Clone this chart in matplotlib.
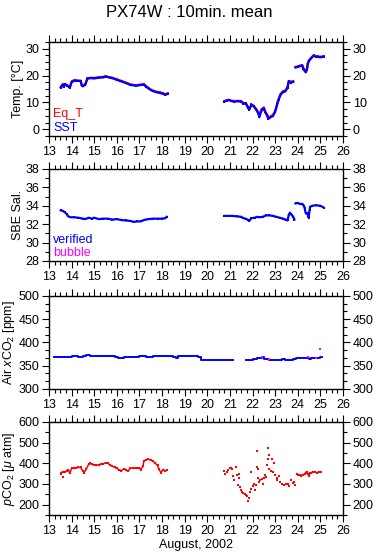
import matplotlib
matplotlib.use("Agg")
import matplotlib.pyplot as plt
from matplotlib.ticker import MultipleLocator

plt.rcParams['font.family'] = ['Liberation Sans', 'DejaVu Sans']
plt.rcParams['mathtext.fontset'] = 'custom'
plt.rcParams['mathtext.rm'] = 'Liberation Sans'
plt.rcParams['mathtext.it'] = 'Liberation Sans:italic'

# ---- temperature (SST blue, Eq_T red) ----
t1_days = [13.52, 13.6, 13.65, 13.7, 13.8, 13.85, 13.92, 14.0, 14.1, 14.2, 14.3, 14.4, 14.45, 14.5,
           14.6, 14.7, 14.8, 14.9, 15.0, 15.2, 15.4, 15.5, 15.6, 15.8, 16.0, 16.2, 16.4, 16.6, 16.85,
           17.0, 17.2, 17.3, 17.4, 17.5, 17.6, 17.75, 17.9, 18.05, 18.15, 18.25]
sst1 = [15.5, 16.5, 15.8, 16.8, 16.2, 16.0, 15.4, 17.5, 18.0, 18.0, 18.0, 18.0, 16.2, 16.0,
        16.5, 18.8, 19.0, 19.0, 18.9, 19.2, 19.3, 19.6, 19.4, 19.0, 18.4, 17.8, 17.2, 16.5, 16.2,
        16.4, 16.6, 15.8, 15.2, 14.6, 14.2, 13.8, 13.5, 13.2, 12.8, 13.2]
eqt1 = [15.7, 16.7, 16.0, 16.9, 16.4, 16.1, 15.6, 17.8, 18.2, 18.2, 18.1, 18.1, 16.4, 16.2,
        16.7, 19.0, 19.1, 19.2, 19.1, 19.4, 19.5, 19.8, 19.5, 19.2, 18.6, 18.0, 17.4, 16.7, 16.4,
        16.6, 16.8, 16.0, 15.4, 14.8, 14.4, 14.0, 13.7, 13.4, 13.0, 13.4]

t2_days = [20.75, 20.85, 20.95, 21.05, 21.2, 21.35, 21.5, 21.6, 21.7, 21.8, 21.85, 21.95, 22.05,
           22.15, 22.25, 22.3, 22.4, 22.5, 22.55, 22.65, 22.7, 22.8, 22.9, 23.0, 23.1, 23.15,
           23.25, 23.35, 23.45, 23.55, 23.6, 23.7, 23.8]
sst2 = [10.3, 10.6, 10.9, 10.5, 10.3, 10.4, 10.3, 9.5, 9.6, 8.0, 7.2, 9.1, 8.5,
        7.4, 6.0, 4.5, 7.2, 7.8, 6.5, 5.0, 3.9, 4.5, 4.9, 6.5, 9.5, 11.0,
        13.0, 13.8, 14.1, 15.5, 17.8, 17.4, 17.6]
eqt2 = [10.5, 10.8, 11.0, 10.7, 10.5, 10.6, 10.5, 9.7, 9.8, 8.3, 7.5, 9.3, 8.8,
        7.7, 6.4, 4.9, 7.5, 8.1, 6.8, 5.4, 4.3, 4.8, 5.3, 6.8, 9.8, 11.3,
        13.3, 14.1, 14.4, 15.8, 18.0, 17.7, 17.9]

t3_days = [23.9, 24.0, 24.1, 24.2, 24.25, 24.3, 24.35, 24.4, 24.45, 24.5, 24.6, 24.7, 24.8,
           24.9, 25.0, 25.1, 25.15]
sst3 = [23.0, 23.2, 23.5, 23.7, 22.4, 21.8, 21.2, 22.0, 24.5, 25.5, 26.5, 27.4, 27.0,
        26.9, 26.8, 26.9, 27.0]
eqt3 = [23.2, 23.4, 23.7, 23.9, 22.7, 22.2, 21.6, 22.4, 24.8, 25.7, 26.7, 27.5, 27.2,
        27.1, 27.0, 27.1, 27.2]

# ---- SBE salinity ----
s1_days = [13.52, 13.6, 13.7, 13.78, 13.85, 13.95, 14.1, 14.3, 14.5, 14.6, 14.75, 14.9, 15.0,
           15.2, 15.4, 15.6, 15.8, 16.0, 16.2, 16.4, 16.6, 16.75, 16.9, 17.05, 17.2, 17.4,
           17.6, 17.8, 18.0, 18.15, 18.2]
sal1 = [33.5, 33.45, 33.3, 33.1, 32.85, 32.75, 32.75, 32.7, 32.6, 32.55, 32.7, 32.6, 32.7,
        32.55, 32.6, 32.6, 32.5, 32.55, 32.45, 32.4, 32.35, 32.25, 32.3, 32.3, 32.45, 32.55,
        32.6, 32.6, 32.6, 32.65, 32.8]
s2_days = [20.76, 20.9, 21.1, 21.3, 21.5, 21.6, 21.7, 21.8, 21.85, 21.95, 22.1, 22.2, 22.3,
           22.45, 22.6, 22.75, 22.9, 23.05, 23.2, 23.35, 23.5, 23.55, 23.6, 23.65, 23.7,
           23.75, 23.8, 23.85]
sal2 = [32.9, 32.9, 32.9, 32.85, 32.8, 32.65, 32.6, 32.45, 32.35, 32.65, 32.7, 32.8, 32.75,
        32.8, 32.95, 32.95, 32.9, 32.8, 32.7, 32.6, 32.45, 32.4, 33.0, 33.25, 33.1,
        32.95, 32.8, 32.5]
s3_days = [23.9, 24.0, 24.1, 24.2, 24.25, 24.3, 24.35, 24.4, 24.45, 24.48, 24.52, 24.55,
           24.65, 24.8, 25.0, 25.15]
sal3 = [34.25, 34.3, 34.2, 34.2, 34.1, 33.8, 33.2, 33.1, 33.2, 32.7, 33.5, 33.9,
        34.0, 34.05, 34.0, 33.8]

# ---- air xCO2 ----
a1_days = [13.2, 13.5, 13.8, 14.0, 14.3, 14.5, 14.65, 14.8, 15.0, 15.5, 15.9, 16.05, 16.3,
           16.6, 17.0, 17.3, 17.6, 18.0, 18.5, 18.6, 18.7, 19.0, 19.3, 19.6, 19.7, 20.5, 21.13]
air1 = [368, 369, 368, 370, 368, 370, 373, 371, 370, 370, 369, 366, 368,
        368, 370, 368, 370, 370, 369, 366, 370, 371, 370, 369, 363, 363, 363]
a2_days = [21.69, 22.0, 22.2, 22.4, 22.5, 22.75, 23.0, 23.3, 23.45, 23.8, 23.9, 24.2, 24.5,
           24.6, 24.8, 25.0, 25.05]
air2 = [363, 365, 366, 368, 365, 363, 363, 365, 363, 364, 367, 367, 365,
        366, 366, 369, 369]
bub_days = [22.4, 22.75, 24.45, 24.8, 25.0]
bub_air = [369, 364, 368, 367, 385]

# ---- pCO2 ----
p1_days = [13.52, 13.55, 13.6, 13.7, 13.8, 13.85, 13.92, 14.0, 14.1, 14.2, 14.3, 14.4, 14.5,
           14.55, 14.65, 14.75, 14.8, 14.9, 15.0, 15.1, 15.2, 15.3, 15.4, 15.5, 15.6, 15.7,
           15.8, 15.9, 16.0, 16.1, 16.2, 16.3, 16.4, 16.5, 16.6, 16.7, 16.8, 16.9, 17.0,
           17.05, 17.15, 17.2, 17.3, 17.4, 17.5, 17.6, 17.7, 17.8, 17.85, 17.95, 18.05,
           18.15, 18.2]
pco2_1 = [350, 355, 360, 358, 365, 370, 352, 375, 378, 378, 380, 380, 362,
          355, 372, 395, 400, 395, 392, 393, 390, 396, 398, 402, 400, 393,
          386, 381, 375, 368, 365, 372, 370, 362, 378, 376, 377, 375, 378,
          368, 385, 412, 418, 420, 415, 410, 400, 390, 373, 355, 370,
          362, 368]
p_out_days = [13.6]
p_out = [333]
p2_days = [20.76, 20.8, 20.85, 20.9, 21.0, 21.05, 21.1, 21.15, 21.2, 21.25, 21.3, 21.35, 21.4,
           21.42, 21.45, 21.5, 21.55, 21.6, 21.65, 21.7, 21.75, 21.8, 21.85, 21.9, 21.95,
           21.95, 22.0, 22.05, 22.1, 22.15, 22.19, 22.2, 22.23, 22.25, 22.3, 22.35, 22.4,
           22.45, 22.5, 22.55, 22.6, 22.63, 22.67, 22.7, 22.72, 22.75, 22.8, 22.85, 22.9,
           22.93, 23.0, 23.07, 23.1, 23.15, 23.2, 23.3, 23.4, 23.5, 23.55, 23.6, 23.7,
           23.77, 23.82, 23.87]
pco2_2 = [365, 350, 360, 370, 378, 375, 372, 340, 318, 380, 345, 293, 330,
          349, 285, 270, 260, 254, 250, 245, 241, 220, 233, 260, 278,
          357, 290, 300, 270, 294, 460, 380, 373, 330, 310, 320, 326,
          300, 330, 341, 335, 390, 476, 420, 440, 373, 365, 420, 357,
          400, 341, 330, 318, 340, 310, 302, 295, 300, 302, 290, 318,
          305, 310, 297]
p3_days = [23.95, 24.0, 24.1, 24.15, 24.22, 24.3, 24.35, 24.4, 24.44, 24.5, 24.55, 24.6,
           24.66, 24.75, 24.85, 24.95, 25.03]
pco2_3 = [349, 345, 343, 340, 345, 348, 355, 360, 349, 340, 355, 352,
          360, 358, 355, 357, 357]

RED, BLUE, MAG = '#ff0000', '#0000ff', '#ff00ff'

fig = plt.figure(figsize=(3.78, 5.58), dpi=100)
W = 0.7778
L = 0.1296
axes = [fig.add_axes([L, 0.7563, W, 0.1685]),
        fig.add_axes([L, 0.5323, W, 0.1649]),
        fig.add_axes([L, 0.3029, W, 0.1667]),
        fig.add_axes([L, 0.0771, W, 0.1667])]

ylims = [(-2.5, 32.5), (28, 38), (300, 500), (150, 600)]
ymaj = [10, 2, 50, 100]
ymin = [2.5, 1, 50 / 3, 50]
ylabels = ['Temp. [°C]', 'SBE Sal.', r'Air $x$CO$_2$ [ppm]', r'$p$CO$_2$ [$\mu$ atm]']

for ax, yl, mj, mn, lab in zip(axes, ylims, ymaj, ymin, ylabels):
    ax.set_xlim(13, 26)
    ax.set_ylim(*yl)
    ax.xaxis.set_major_locator(MultipleLocator(1))
    ax.xaxis.set_minor_locator(MultipleLocator(0.25))
    ax.yaxis.set_major_locator(MultipleLocator(mj))
    ax.yaxis.set_minor_locator(MultipleLocator(mn))
    ax.tick_params(which='both', direction='out', top=True, right=True,
                   labelright=True, labelsize=9, width=0.8, pad=2)
    ax.tick_params(which='major', length=5)
    ax.tick_params(which='minor', length=3)
    ax.set_ylabel(lab, fontsize=9, labelpad=1)
    for s in ax.spines.values():
        s.set_linewidth(1.0)

ax1, ax2, ax3, ax4 = axes
ax1.set_yticks([0, 10, 20, 30])

kw = dict(lw=1.6, marker='s', ms=1.8, mew=0)
for d, e, s in [(t1_days, eqt1, sst1), (t2_days, eqt2, sst2), (t3_days, eqt3, sst3)]:
    ax1.plot(d, e, color=RED, **kw)
    ax1.plot(d, s, color=BLUE, **kw)
ax1.text(0.015, 0.2, 'Eq_T', color=RED, fontsize=9, transform=ax1.transAxes)
ax1.text(0.015, 0.05, 'SST', color=BLUE, fontsize=9, transform=ax1.transAxes)

for d, s in [(s1_days, sal1), (s2_days, sal2), (s3_days, sal3)]:
    ax2.plot(d, s, color=BLUE, **kw)
ax2.text(0.015, 0.2, 'verified', color=BLUE, fontsize=9, transform=ax2.transAxes)
ax2.text(0.015, 0.05, 'bubble', color=MAG, fontsize=9, transform=ax2.transAxes)

ax3.step(a1_days, air1, where='post', color=BLUE, lw=1.4)
ax3.step(a2_days, air2, where='post', color=BLUE, lw=1.4)
ax3.plot(bub_days, bub_air, 's', color=MAG, ms=1.6, mew=0)

ax4.plot(p1_days, pco2_1, color=RED, lw=1.1, marker='s', ms=1.8, mew=0)
ax4.plot(p_out_days, p_out, 's', color=RED, ms=1.6, mew=0)
ax4.plot(p2_days, pco2_2, 's', color=RED, ms=1.6, mew=0)
ax4.plot(p3_days, pco2_3, color=RED, lw=1.1, marker='s', ms=1.8, mew=0)
ax4.set_xlabel('August, 2002', fontsize=9, labelpad=2)

fig.text(0.5, 0.977, 'PX74W : 10min. mean', ha='center', va='center', fontsize=12)

fig.savefig('out.png', dpi=100)
